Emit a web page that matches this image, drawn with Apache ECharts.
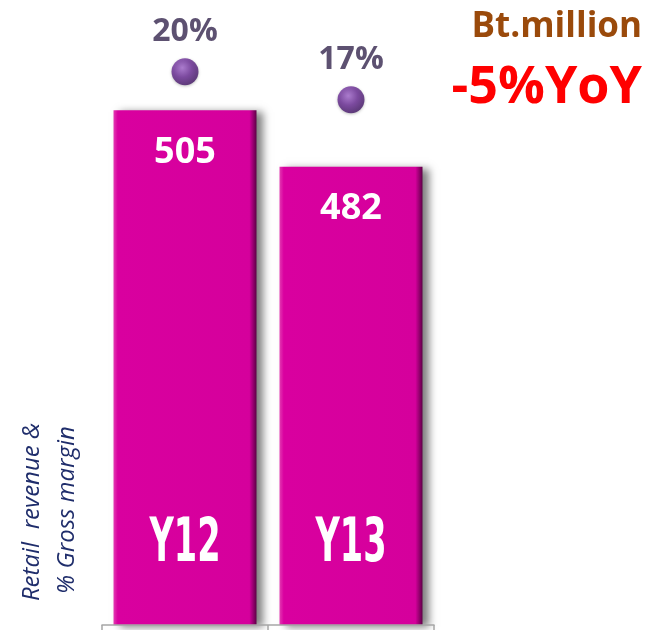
<!DOCTYPE html>
<html><head><meta charset="utf-8">
<script src="https://cdn.jsdelivr.net/npm/echarts@6/dist/echarts.min.js"></script>
<style>html,body{margin:0;padding:0;background:#fff}#c{width:661px;height:630px}</style>
</head><body><div id="c"></div>
<script>
const categories = ['Y12', 'Y13'];
const revenue = [505, 482];
const grossMargin = [20, 17];
const unitText = 'Bt.million';
const yoyText = '-5%YoY';
const axisTitle = ['Retail  revenue &', '% Gross margin'];

const chart = echarts.init(document.getElementById('c'), null, {renderer: 'canvas'});
chart.setOption({
  animation: false,
  grid: {left: 102, right: 227, top: 0, bottom: 5, containLabel: false},
  xAxis: {
    type: 'category', data: categories,
    axisLine: {show: true, onZero: false, lineStyle: {color: '#a6a6a6', width: 1.5}},
    axisTick: {show: true, length: 6, lineStyle: {color: '#a6a6a6', width: 1.5}},
    axisLabel: {show: false},
    z: 10
  },
  yAxis: [
    {type: 'value', min: 295, max: 550, show: false},
    {type: 'value', min: -39.3, max: 27.7, show: false}
  ],
  series: [
    {
      type: 'bar', data: revenue, yAxisIndex: 0, barWidth: 143,
      itemStyle: {
        color: {type: 'linear', x: 0, y: 0, x2: 1, y2: 0, colorStops: [
          {offset: 0, color: '#e33ab2'}, {offset: 0.03, color: '#d9009f'},
          {offset: 0.95, color: '#d5009c'}, {offset: 0.975, color: '#9a0072'}, {offset: 1, color: '#5e0046'}
        ]},
        shadowColor: 'rgba(0,0,0,0.5)', shadowBlur: 8, shadowOffsetX: 6, shadowOffsetY: 2
      },
      label: {
        show: true, position: 'insideTop', distance: 24,
        color: '#ffffff', fontFamily: 'Open Sans, sans-serif', fontWeight: 'bold', fontSize: 36
      }
    },
    {
      type: 'custom', yAxisIndex: 0, z: 5,
      data: categories.map((c, i) => [i, 295]),
      renderItem: function (params, api) {
        const p = api.coord([api.value(0), api.value(1)]);
        return {
          type: 'text', x: p[0], y: p[1] - 80, scaleX: 0.56,
          style: {text: categories[params.dataIndex], fill: '#ffffff',
            font: 'bold 60px "DejaVu Sans", sans-serif', align: 'center', verticalAlign: 'middle'}
        };
      }
    },
    {
      type: 'scatter', data: grossMargin, yAxisIndex: 1, symbolSize: 27,
      itemStyle: {
        color: {type: 'radial', x: 0.4, y: 0.35, r: 0.7, colorStops: [
          {offset: 0, color: '#a56ad0'}, {offset: 0.5, color: '#6a2c96'}, {offset: 1, color: '#3e1460'}
        ]},
        shadowColor: 'rgba(0,0,0,0.3)', shadowBlur: 3, shadowOffsetY: 1
      },
      label: {
        show: true, position: 'top', distance: 10,
        formatter: p => p.value + '%',
        color: '#35264d', fontFamily: 'Open Sans, sans-serif', fontWeight: 'bold', fontSize: 32
      }
    }
  ],
  graphic: [
    {type: 'text', right: 19, top: 10, style: {text: unitText, fill: '#9a4a0b',
      font: 'bold 35px "Open Sans", sans-serif'}},
    {type: 'text', right: 19, top: 62, style: {text: yoyText, fill: '#ff0000',
      font: 'bold 52px "Open Sans", sans-serif'}},
    {type: 'text', x: 32, y: 512, rotation: Math.PI / 2, style: {text: axisTitle[0], fill: '#1f2d6b',
      font: 'italic 24px "Open Sans", sans-serif', align: 'center', verticalAlign: 'middle'}},
    {type: 'text', x: 67, y: 510, rotation: Math.PI / 2, style: {text: axisTitle[1], fill: '#1f2d6b',
      font: 'italic 24px "Open Sans", sans-serif', align: 'center', verticalAlign: 'middle'}}
  ]
});
</script></body></html>
